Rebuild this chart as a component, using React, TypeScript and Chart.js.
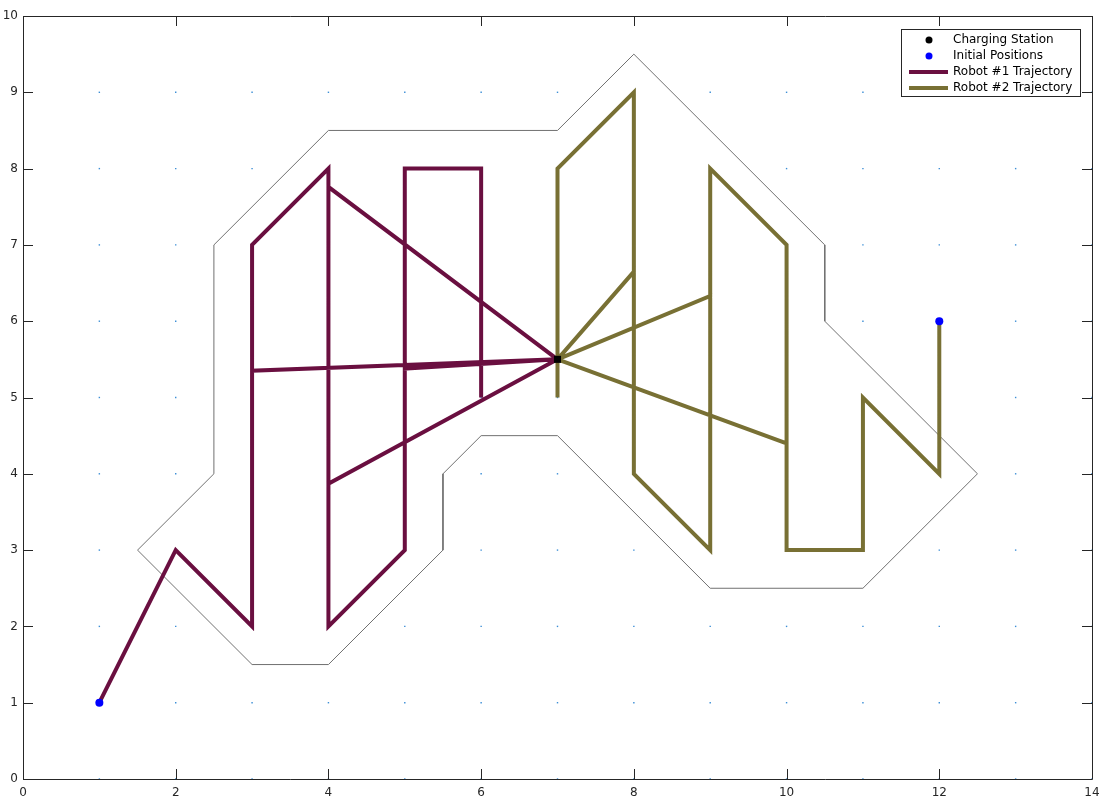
import React, { useEffect, useRef } from "react";
import { Chart, registerables } from "chart.js";

Chart.register(...registerables);

const stationX = [7];
const stationY = [5.5];

const initX = [1, 12];
const initY = [1, 6];

const robot1X = [1, 2, 3, 3, 7, 3, 3, 4, 4, 7, 4, 4, 7, 4, 4, 5, 5, 7, 5, 5, 6, 6];
const robot1Y = [1, 3, 2, 5.35, 5.5, 5.35, 7, 8, 7.76, 5.5, 7.76, 3.87, 5.5, 3.87, 2, 3, 5.38, 5.5, 5.38, 8, 8, 5];

const robot2X = [12, 12, 11, 11, 10, 10, 7, 10, 10, 9, 9, 7, 9, 9, 8, 8, 7, 8, 8, 7, 7];
const robot2Y = [6, 4, 5, 3, 3, 4.4, 5.5, 4.4, 7, 8, 6.33, 5.5, 6.33, 3, 4, 6.65, 5.5, 6.65, 9, 8, 5];

const boundaryX = [1.5, 2.5, 2.5, 4, 7, 8, 10.5, 10.5, 12.5, 11, 9, 7, 6, 5.5, 5.5, 4, 3, 1.5];
const boundaryY = [3, 4, 7, 8.5, 8.5, 9.5, 7, 6, 4, 2.5, 2.5, 4.5, 4.5, 4, 3, 1.5, 1.5, 3];

const gridX = [0, 1, 2, 3, 4, 5, 6, 7, 8, 9, 10, 11, 12, 13, 14];
const gridY = [0, 1, 2, 3, 4, 5, 6, 7, 8, 9, 10];

const legendLabels = ["Charging Station", "Initial Positions", "Robot #1 Trajectory", "Robot #2 Trajectory"];

const R1_COLOR = "rgb(106,15,64)";
const R2_COLOR = "rgb(120,112,52)";
const AXIS_COLOR = "#262626";
const FONT = "'DejaVu Sans', sans-serif";

const zip = (xs: number[], ys: number[]) => xs.map((x, i) => ({ x, y: ys[i] }));

const boxTicksPlugin = {
  id: "boxTicks",
  afterDatasetsDraw(chart: any) {
    const { ctx, chartArea, scales } = chart;
    const { left, right, top, bottom } = chartArea;
    ctx.save();
    ctx.strokeStyle = AXIS_COLOR;
    ctx.lineWidth = 1;
    ctx.beginPath();
    ctx.rect(left + 0.5, top + 0.5, right - left, bottom - top);
    ctx.stroke();
    const tl = 10;
    ctx.beginPath();
    scales.x.ticks.forEach((t: any) => {
      const px = Math.round(scales.x.getPixelForValue(t.value)) + 0.5;
      ctx.moveTo(px, bottom);
      ctx.lineTo(px, bottom - tl);
      ctx.moveTo(px, top);
      ctx.lineTo(px, top + tl);
    });
    scales.y.ticks.forEach((t: any) => {
      const py = Math.round(scales.y.getPixelForValue(t.value)) + 0.5;
      ctx.moveTo(left, py);
      ctx.lineTo(left + tl, py);
      ctx.moveTo(right, py);
      ctx.lineTo(right - tl, py);
    });
    ctx.stroke();
    ctx.restore();
  },
  afterDraw(chart: any) {
    const { ctx, chartArea } = chart;
    const bw = 179;
    const bh = 67;
    const bx = chartArea.right - 12 - bw;
    const by = chartArea.top + 13;
    ctx.save();
    ctx.fillStyle = "#ffffff";
    ctx.fillRect(bx, by, bw, bh);
    ctx.strokeStyle = AXIS_COLOR;
    ctx.lineWidth = 1;
    ctx.strokeRect(bx + 0.5, by + 0.5, bw, bh);
    ctx.font = `12px ${FONT}`;
    ctx.textBaseline = "middle";
    ctx.textAlign = "left";
    legendLabels.forEach((label, i) => {
      const cy = by + 11 + i * 16;
      if (i === 0 || i === 1) {
        ctx.fillStyle = i === 0 ? "#000000" : "#0000ff";
        ctx.beginPath();
        ctx.arc(bx + 28, cy, 3.5, 0, Math.PI * 2);
        ctx.fill();
      } else {
        ctx.strokeStyle = i === 2 ? R1_COLOR : R2_COLOR;
        ctx.lineWidth = 4;
        ctx.beginPath();
        ctx.moveTo(bx + 8, cy);
        ctx.lineTo(bx + 47, cy);
        ctx.stroke();
      }
      ctx.fillStyle = "#000000";
      ctx.fillText(label, bx + 52, cy);
    });
    ctx.restore();
  },
};

export default function App() {
  const canvasRef = useRef<HTMLCanvasElement | null>(null);

  useEffect(() => {
    document.body.style.margin = "0";
    const canvas = canvasRef.current;
    if (!canvas) return;
    const gridPoints: { x: number; y: number }[] = [];
    gridY.forEach((y) => gridX.forEach((x) => gridPoints.push({ x, y })));

    const chart = new Chart(canvas, {
      type: "scatter",
      data: {
        datasets: [
          {
            label: "Charging Station",
            data: zip(stationX, stationY),
            pointStyle: "rect",
            pointRadius: 5,
            backgroundColor: "#000000",
            borderColor: "#000000",
            borderWidth: 0,
            order: 0,
          },
          {
            label: "Initial Positions",
            data: zip(initX, initY),
            pointStyle: "circle",
            pointRadius: 4,
            backgroundColor: "#0000ff",
            borderColor: "#0000ff",
            borderWidth: 0,
            order: 1,
          },
          {
            label: "Robot #2 Trajectory",
            data: zip(robot2X, robot2Y),
            showLine: true,
            borderColor: R2_COLOR,
            borderWidth: 4,
            pointRadius: 0,
            borderJoinStyle: "miter",
            order: 2,
          },
          {
            label: "Robot #1 Trajectory",
            data: zip(robot1X, robot1Y),
            showLine: true,
            borderColor: R1_COLOR,
            borderWidth: 4,
            pointRadius: 0,
            borderJoinStyle: "miter",
            order: 3,
          },
          {
            label: "grid",
            data: gridPoints,
            pointRadius: 1,
            pointStyle: "rect",
            backgroundColor: "#3d8fd6",
            borderWidth: 0,
            order: 4,
          },
          {
            label: "boundary",
            data: zip(boundaryX, boundaryY),
            showLine: true,
            borderColor: "#707070",
            borderWidth: 1,
            pointRadius: 0,
            order: 5,
          },
        ],
      },
      options: {
        responsive: false,
        animation: false,
        layout: { padding: { top: 16, right: 8, left: 0, bottom: 0 } },
        plugins: {
          legend: { display: false },
          tooltip: { enabled: false },
        },
        scales: {
          x: {
            type: "linear",
            min: 0,
            max: 14,
            ticks: {
              stepSize: 2,
              color: AXIS_COLOR,
              font: { family: FONT, size: 12 },
              padding: 7,
              maxRotation: 0,
            },
            grid: { display: false, drawTicks: false },
            border: { display: false },
            afterFit: (s: any) => {
              s.height = 21;
              s.paddingLeft = 0;
              s.paddingRight = 0;
            },
          },
          y: {
            type: "linear",
            min: 0,
            max: 10,
            ticks: {
              stepSize: 1,
              color: AXIS_COLOR,
              font: { family: FONT, size: 12 },
              padding: 5,
            },
            grid: { display: false, drawTicks: false },
            border: { display: false },
            afterFit: (s: any) => {
              s.width = 23;
              s.paddingTop = 0;
              s.paddingBottom = 0;
            },
          },
        },
      },
      plugins: [boxTicksPlugin],
    } as any);
    return () => chart.destroy();
  }, []);

  return (
    <div style={{ position: "fixed", left: 0, top: 0, width: 1100, height: 800, background: "#ffffff" }}>
      <canvas ref={canvasRef} width={1100} height={800} />
    </div>
  );
}
